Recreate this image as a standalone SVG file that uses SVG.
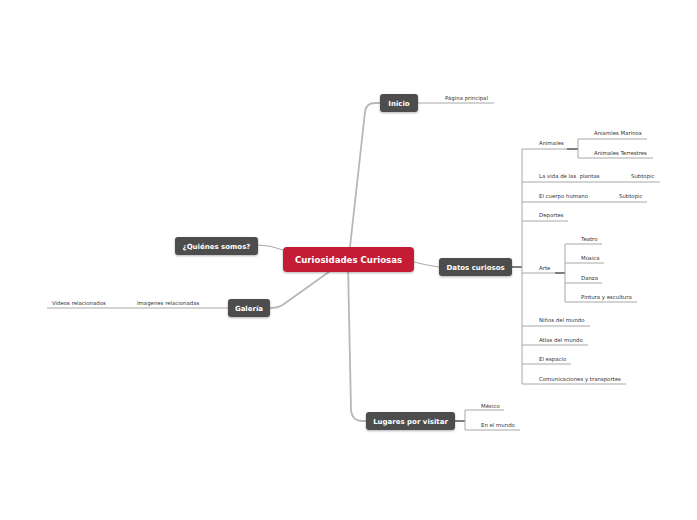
<svg xmlns="http://www.w3.org/2000/svg" width="697" height="520" viewBox="0 0 697 520">
<defs>
<style>
.bg{fill:#ffffff}
.node rect{fill:#4d4d4d}
.node text{fill:#ffffff;font-family:"DejaVu Sans",Verdana,sans-serif;font-weight:bold;font-size:7px;text-anchor:middle}
#central rect{fill:#c41f35}
#central text{font-size:8.6px}
.main{fill:none;stroke:#b8b8b8;stroke-width:1.8;stroke-linecap:round}
.sub{fill:none;stroke:#a8a8a8;stroke-width:1}
.dark{fill:none;stroke:#3a3a3a;stroke-width:1.3}
.lbl{fill:#333333;font-family:"DejaVu Sans",Verdana,sans-serif;font-size:5.4px}
</style>
<filter id="sh" x="-10%" y="-20%" width="120%" height="150%">
<feDropShadow dx="0" dy="1" stdDeviation="0.8" flood-color="#000" flood-opacity="0.3"/>
</filter>
</defs>
<rect class="bg" x="0" y="0" width="697" height="520"/>

<g id="connectors">
<path class="main" d="M349,256 L365,112 Q366,103 375,103 L380,103"/>
<path class="main" d="M348,264 L351,410 Q352,421 362,421 L366,421"/>
<path class="main" d="M340,264 L284,304 Q279,308 270,308"/>
<path class="sub" d="M258,245 Q270,245 283,250"/>
<path class="sub" d="M414,262 Q425,265 439,267"/>
<path class="sub" d="M418,103 L494,103"/>
<path class="sub" d="M228,308 L47,308"/>
<path class="dark" d="M512,267 L522,267"/>
<path class="sub" d="M522,149 L522,384"/>
<path class="sub" d="M522,149 L567,149"/>
<path class="dark" d="M567,149 L578,149"/>
<path class="sub" d="M578,139 L578,158"/>
<path class="sub" d="M578,139 L647,139"/>
<path class="sub" d="M578,158 L653,158"/>
<path class="sub" d="M522,182 L660,182"/>
<path class="sub" d="M522,202 L647,202"/>
<path class="sub" d="M522,221 L568,221"/>
<path class="sub" d="M522,273 L555,273"/>
<path class="dark" d="M555,273 L565,273"/>
<path class="sub" d="M565,244 L565,302"/>
<path class="sub" d="M565,244 L602,244"/>
<path class="sub" d="M565,263 L604,263"/>
<path class="sub" d="M565,283 L602,283"/>
<path class="sub" d="M565,302 L637,302"/>
<path class="sub" d="M522,326 L590,326"/>
<path class="sub" d="M522,345 L588,345"/>
<path class="sub" d="M522,364 L571,364"/>
<path class="sub" d="M522,384 L626,384"/>
<path class="dark" d="M455,421 L465,421"/>
<path class="sub" d="M465,410 L465,430"/>
<path class="sub" d="M465,410 L504,410"/>
<path class="sub" d="M465,430 L520,430"/>
</g>

<g id="central" class="node"><rect x="283" y="247" width="131" height="25" rx="4" filter="url(#sh)"/><text x="348.5" y="263">Curiosidades Curiosas</text></g>
<g id="inicio" class="node"><rect x="380" y="94" width="38" height="18" rx="3" filter="url(#sh)"/><text x="399" y="105.5">Inicio</text></g>
<g id="quienes" class="node"><rect x="175" y="237" width="83" height="18" rx="3" filter="url(#sh)"/><text x="216.5" y="248.5">¿Quiénes somos?</text></g>
<g id="galeria" class="node"><rect x="228" y="299" width="42" height="18" rx="3" filter="url(#sh)"/><text x="249" y="310.5">Galería</text></g>
<g id="datos" class="node"><rect x="439" y="258" width="73" height="18" rx="3" filter="url(#sh)"/><text x="475.5" y="269.5">Datos curiosos</text></g>
<g id="lugares" class="node"><rect x="366" y="412" width="89" height="18" rx="3" filter="url(#sh)"/><text x="410.5" y="423.5">Lugares por visitar</text></g>

<g id="pagina"><text class="lbl" x="445" y="100">Página principal</text></g>
<g id="imagenes"><text class="lbl" x="137" y="305">Imagenes relacionadas</text></g>
<g id="videos"><text class="lbl" x="52" y="305">Videos relacionados</text></g>
<g id="animales"><text class="lbl" x="539" y="145">Animales</text></g>
<g id="marinos"><text class="lbl" x="594" y="135">Aniamles Marinos</text></g>
<g id="terrestres"><text class="lbl" x="594" y="155">Animales Terrestres</text></g>
<g id="plantas"><text class="lbl" x="539" y="178" xml:space="preserve">La vida de las  plantas</text></g>
<g id="subtopic1"><text class="lbl" x="631" y="178">Subtopic</text></g>
<g id="cuerpo"><text class="lbl" x="539" y="198">El cuerpo humano</text></g>
<g id="subtopic2"><text class="lbl" x="619" y="198">Subtopic</text></g>
<g id="deportes"><text class="lbl" x="539" y="217">Deportes</text></g>
<g id="arte"><text class="lbl" x="539" y="270">Arte</text></g>
<g id="teatro"><text class="lbl" x="581" y="241">Teatro</text></g>
<g id="musica"><text class="lbl" x="581" y="260">Música</text></g>
<g id="danza"><text class="lbl" x="581" y="280">Danza</text></g>
<g id="pintura"><text class="lbl" x="581" y="299">Pintura y escultura</text></g>
<g id="ninos"><text class="lbl" x="539" y="322">Niños del mundo</text></g>
<g id="atlas"><text class="lbl" x="539" y="342">Atlas del mundo</text></g>
<g id="espacio"><text class="lbl" x="539" y="361">El espacio</text></g>
<g id="comunicaciones"><text class="lbl" x="539" y="381">Comunicaciones y transportes</text></g>
<g id="mexico"><text class="lbl" x="481" y="408">México</text></g>
<g id="mundo"><text class="lbl" x="481" y="427">En el mundo</text></g>
</svg>
